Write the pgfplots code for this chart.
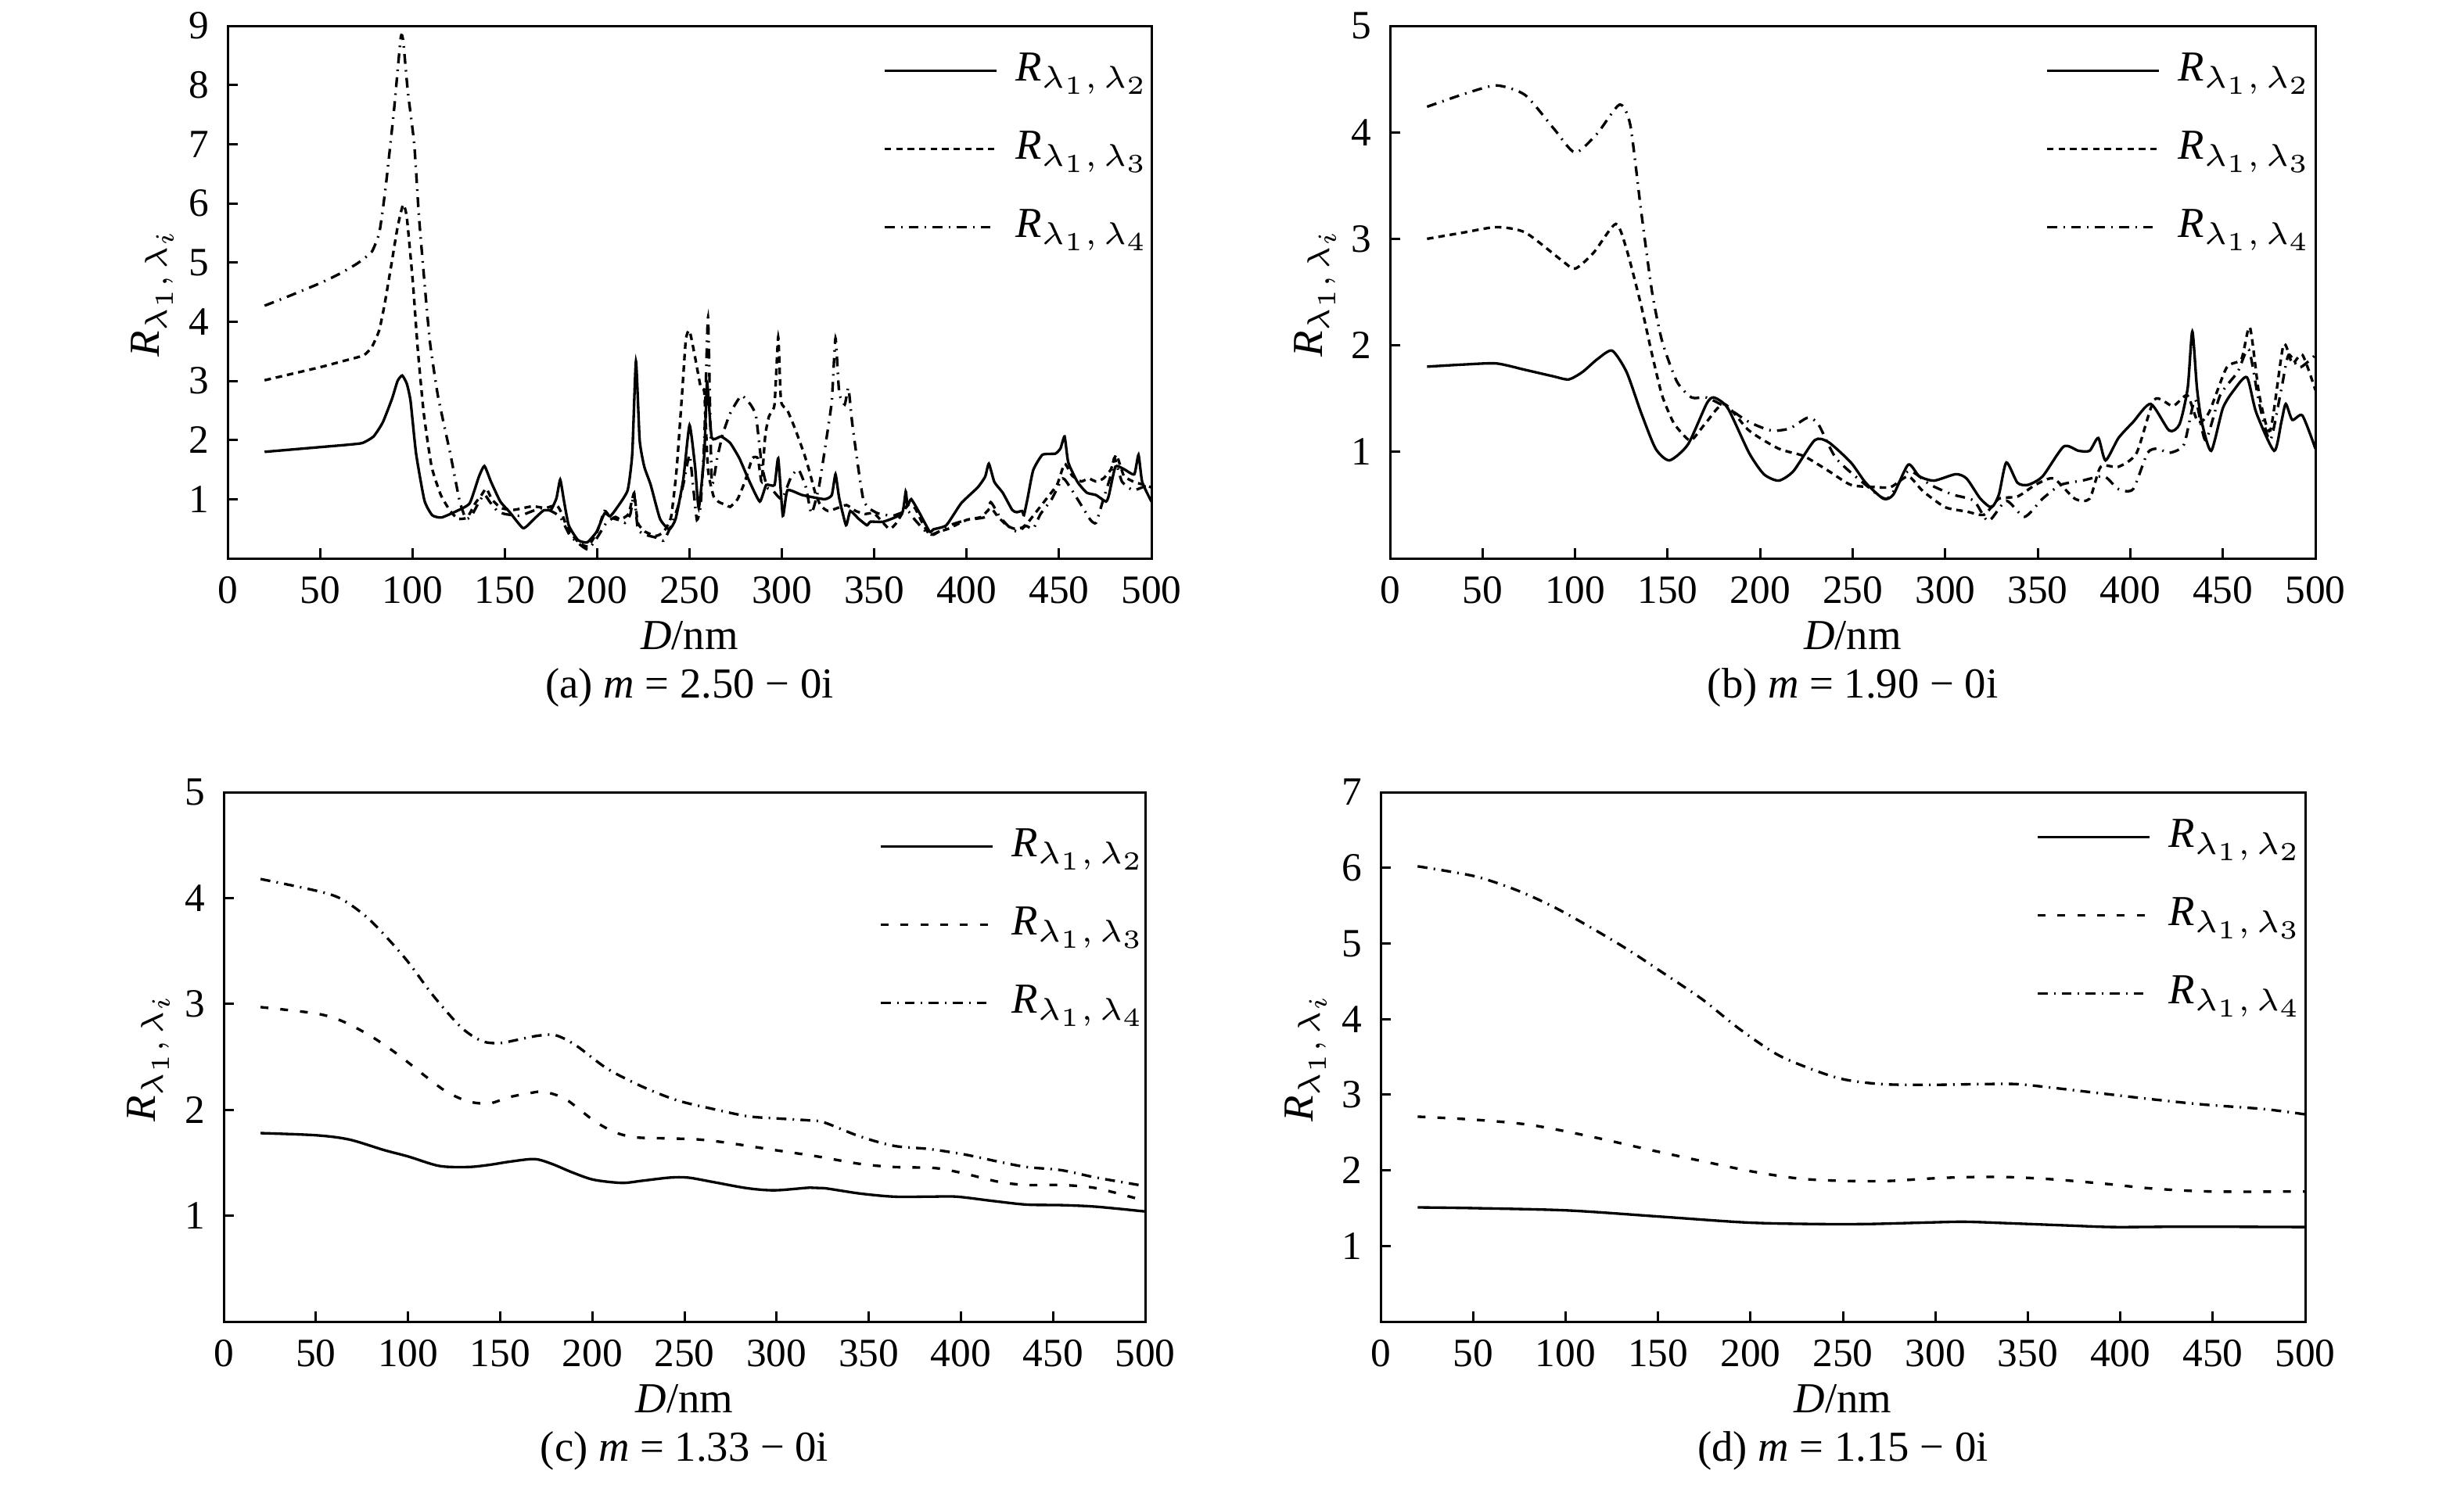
\documentclass[border=0pt]{standalone}
\usepackage{fontspec}
\setmainfont{Liberation Serif}
\usepackage{pgfplots}
\pgfplotsset{compat=1.18}
\newcommand{\fs}{\fontsize{8.2}{9.8}\selectfont}
\newcommand{\ft}{\fontsize{7.7}{9.2}\selectfont}
\newcommand{\Rl}[1]{{\itshape R}$_{\lambda_1,\,\lambda_{#1}}$}
\pgfplotsset{
  legend image code/.code={\draw[#1] (0pt,0pt) -- (21.45pt,0pt);},
  panel/.style={
    scale only axis, anchor=south west,
    xmin=0, xmax=500, ymin=0,
    xtick={0,50,...,500},
    tick align=inside, tick pos=left,
    major tick length=2pt,
    axis line style={line width=0.45pt},
    every tick/.style={line width=0.45pt, black},
    tick label style={font=\ft},
    /pgf/number format/assume math mode=true,
    label style={font=\fs},
    xlabel={{\itshape D}/nm},
    ylabel={\Rl{i}},
    xlabel style={at={(axis description cs:0.5,0)}, anchor=base, yshift=-17.4pt},
    ylabel style={at={(axis description cs:0,0.5)}, anchor=center, yshift=14.4pt},
    legend cell align=left,
    legend style={draw=none, fill=none, anchor=north west, inner sep=0pt,
      row sep=8.1pt, column sep=3.4pt, font=\fs,
      nodes={inner sep=0pt},
      at={(axis description cs:0,1)}, xshift=125.55pt, yshift=-5.0pt},
  },
  s12/.style={black, line width=0.5pt},
  s13/.style={black, line width=0.5pt, dash pattern=on 1.25pt off 0.95pt},
  s13w/.style={black, line width=0.5pt, dash pattern=on 1.5pt off 2.3pt},
  s14/.style={black, line width=0.5pt, dash pattern=on 1.9pt off 1.2pt on 0.3pt off 1.2pt},
}
\begin{document}
\begin{tikzpicture}
\useasboundingbox (0,0) rectangle (472.5pt,284.7pt);
% ---------------- (a)
\begin{axis}[panel, name=pa, at={(43.65pt,177.6pt)}, width=177.15pt, height=102.15pt,
  ymax=9, ytick={1,...,9}]
\addplot[s12, smooth, tension=0.3] coordinates {
(20,1.80)(35,1.84)(50,1.88)(65,1.92)(73,1.95)(79,2.06)(84,2.30)(89,2.70)(92,3.00)(94.5,3.09)(97,2.95)(99,2.66)(102,1.77)(106.5,0.98)(110.7,0.73)(115.7,0.69)(124,0.80)(131,0.93)(136,1.38)(139,1.56)(142.6,1.29)(147.6,0.96)(152.7,0.78)(160,0.51)(166,0.67)(171,0.81)(175,0.82)(178,1.02)(180,1.33)(182,0.98)(184.6,0.56)(189.6,0.31)(194.6,0.27)(199.7,0.45)(204,0.76)(207,0.71)(210.6,0.85)(216.5,1.15)(219,1.77)(221,3.33)(223,2.00)(225.5,1.55)(229,1.24)(234,0.67)(239,0.49)(242.5,0.67)(246.6,1.33)(250,2.25)(253,1.55)(255,0.85)(258,1.77)(259.5,2.97)(262,2.04)(267,2.06)(272,1.95)(277,1.69)(282,1.33)(288,0.96)(291.5,1.24)(296,1.24)(298,1.69)(300.5,0.72)(303,1.15)(311,1.07)(323,1.00)(327,1.07)(329,1.42)(331,1.02)(334.7,0.56)(337,0.80)(341.5,0.67)(346,0.56)(348,0.62)(355,0.62)(365,0.76)(367,1.13)(368,0.89)(370,1.00)(374.6,0.76)(380,0.45)(382,0.49)(389,0.56)(397,0.93)(406,1.20)(410,1.38)(412,1.60)(415,1.29)(419.5,1.11)(424.6,0.82)(427,0.78)(430,0.80)(431,0.73)(433,1.02)(436,1.49)(441,1.75)(448,1.77)(450.8,1.86)(453,2.06)(455,1.62)(460,1.29)(465,1.11)(470,1.07)(475.4,0.96)(477,1.07)(480.5,1.55)(485,1.51)(490.7,1.42)(493,1.75)(495,1.29)(500,0.96)};
\addlegendentry{\Rl{2}}
\addplot[s13, smooth, tension=0.3] coordinates {
(20,3.01)(35,3.12)(50,3.23)(62,3.33)(73.5,3.43)(78,3.57)(82,3.85)(85,4.30)(88.6,4.96)(92,5.60)(95,5.98)(97,5.76)(100.3,4.65)(102.9,3.54)(106.2,2.44)(110.4,1.55)(115.4,1.07)(120.5,0.80)(124.7,0.67)(129.7,0.69)(134,0.93)(137,1.05)(140,1.18)(143,1.00)(148,0.85)(155,0.82)(165,0.88)(172,0.85)(178,0.90)(181,0.75)(184,0.50)(190,0.27)(195,0.20)(200,0.45)(204,0.80)(207,0.70)(212,0.65)(217,0.75)(220,1.10)(222,0.60)(226,0.45)(232,0.38)(236,0.45)(240,0.70)(243,1.50)(246,2.80)(248,3.70)(250,3.85)(253,3.40)(256,2.90)(258,2.80)(260,1.50)(263,1.05)(266,0.95)(270,0.90)(272,0.87)(276,1.00)(280,1.30)(284,1.69)(287,1.69)(289,1.30)(291,2.08)(293,2.40)(296,2.60)(298,3.74)(299.5,2.66)(303,2.50)(307,2.20)(312,1.77)(315,1.46)(318,1.11)(321,0.89)(325,0.80)(330,0.85)(335,0.90)(340,0.80)(345,0.75)(350,0.76)(358,0.50)(362,0.60)(368,0.90)(372,0.85)(376,0.60)(380,0.40)(385,0.45)(390,0.50)(400,0.65)(408,0.70)(413,0.85)(417,0.70)(422,0.55)(426,0.50)(430,0.52)(433,0.60)(438,0.80)(443,1.00)(449,1.25)(453,1.60)(457,1.40)(462,1.30)(466,1.35)(470,1.30)(474,1.35)(478,1.50)(481,1.75)(485,1.40)(490,1.30)(495,1.25)(500,1.20)};
\addlegendentry{\Rl{3}}
\addplot[s14, smooth, tension=0.3] coordinates {
(20,4.27)(33,4.43)(50,4.65)(60,4.80)(70,4.98)(78,5.18)(82,5.49)(84,5.90)(86,6.40)(90,7.56)(93.7,8.80)(95,8.75)(97.5,7.90)(101,7.00)(103.6,5.76)(107,4.50)(109.6,3.63)(113.8,2.75)(120.5,1.77)(125.5,0.98)(128.9,0.67)(132,0.72)(136,0.95)(139,1.08)(142,0.95)(146,0.80)(150,0.75)(158,0.72)(165,0.80)(170,0.85)(175,0.80)(180,0.70)(185,0.40)(190,0.25)(195,0.15)(200,0.35)(205,0.60)(210,0.70)(215,0.60)(218,0.75)(220,1.10)(222,0.50)(226,0.40)(232,0.35)(236,0.30)(240,0.55)(244,0.90)(247,1.30)(250,1.75)(252,1.20)(254,0.65)(256,0.90)(258,2.00)(260,4.07)(262,1.30)(265,1.70)(268,2.10)(272,2.45)(278,2.75)(283,2.60)(286,2.40)(289,1.60)(292,1.20)(295,1.15)(300,1.00)(305,1.38)(309,1.50)(313,1.20)(316,0.76)(320,1.20)(324,2.00)(327,2.66)(329,3.72)(331,2.80)(334,2.60)(336,2.88)(338,2.30)(341,1.60)(344,1.00)(347,0.85)(352,0.76)(360,0.72)(368,0.80)(372,0.65)(378,0.45)(382,0.40)(390,0.55)(400,0.65)(410,0.70)(413,0.95)(418,0.70)(424,0.50)(428,0.45)(432,0.55)(436,0.50)(440,0.75)(446,1.00)(452,1.35)(456,1.20)(462,0.90)(467,0.65)(470,0.60)(474,1.00)(478,1.40)(480,1.70)(484,1.30)(490,1.15)(495,1.20)(500,1.25)};
\addlegendentry{\Rl{4}}
\end{axis}
\node[font=\fs, anchor=base] at ([yshift=-26.8pt]pa.south) {(a) {\itshape m} = 2.50 − 0i};
% ---------------- (b)
\begin{axis}[panel, name=pb, at={(266.55pt,177.6pt)}, width=177.45pt, height=102.15pt,
  ymax=5, ytick={1,...,5}]
\addplot[s12, smooth, tension=0.4] coordinates {
(20,1.80)(40,1.82)(57.5,1.83)(73,1.77)(88,1.71)(96.5,1.68)(104,1.75)(112,1.87)(120,1.95)(127.8,1.75)(135.6,1.37)(143.5,1.03)(151,0.92)(161,1.07)(171,1.45)(175,1.51)(182.5,1.41)(194,0.99)(202,0.79)(210,0.73)(218,0.82)(229.5,1.11)(237,1.09)(249,0.90)(257,0.71)(266.6,0.56)(272,0.60)(280,0.88)(286,0.77)(294,0.73)(305.6,0.79)(311.5,0.75)(319,0.56)(325,0.48)(329,0.60)(333,0.90)(339,0.71)(344.7,0.69)(352.6,0.77)(364,1.05)(372,1.01)(378,1.01)(382.7,1.13)(386.6,0.92)(393.6,1.13)(401.5,1.28)(411,1.45)(421,1.20)(426.6,1.26)(431,1.60)(433.5,2.13)(436,1.60)(438.6,1.28)(443.7,1.01)(450,1.41)(456,1.58)(463,1.70)(468,1.37)(477.7,1.01)(481.6,1.28)(484,1.45)(487.5,1.30)(493,1.34)(500,1.03)};
\addlegendentry{\Rl{2}}
\addplot[s13, smooth, tension=0.4] coordinates {
(20,3.00)(40,3.06)(57.5,3.11)(73,3.06)(92.6,2.80)(100,2.72)(110,2.87)(122,3.14)(128,2.89)(135.6,2.38)(141.5,1.92)(147,1.53)(153,1.28)(159,1.15)(163,1.11)(171,1.28)(180.6,1.45)(194,1.20)(210,1.03)(223.6,0.96)(237,0.82)(249,0.69)(261,0.67)(270.6,0.67)(280,0.77)(288,0.63)(300,0.48)(311.5,0.44)(321,0.41)(329,0.56)(339,0.58)(348.7,0.69)(358.5,0.75)(370,0.56)(378,0.56)(384,0.86)(393.6,0.86)(403.4,0.99)(413,1.49)(423,1.43)(430.8,1.53)(436.6,1.28)(442.5,1.37)(452,1.79)(460,1.87)(464.6,2.17)(469.7,1.53)(475.6,1.20)(482.7,2.00)(487.5,1.83)(493,1.91)(500,1.58)};
\addlegendentry{\Rl{3}}
\addplot[s14, smooth, tension=0.4] coordinates {
(20,4.24)(40,4.36)(57.5,4.44)(73,4.35)(88.7,4.03)(100,3.81)(112,3.99)(124,4.26)(129.8,4.07)(135.6,3.27)(141.5,2.51)(147,2.04)(155,1.66)(163,1.51)(171,1.51)(182.5,1.41)(194,1.28)(206,1.20)(216,1.22)(225.6,1.32)(231.4,1.26)(241,0.94)(257,0.69)(268.6,0.56)(280,0.82)(292,0.69)(303.8,0.60)(315.5,0.54)(323.3,0.35)(333,0.54)(342.8,0.39)(352.6,0.56)(362.4,0.69)(374,0.73)(385.8,0.77)(393.6,0.65)(401.5,0.65)(409.3,0.99)(415,1.03)(421,0.99)(429,1.07)(435,1.49)(440.6,1.11)(448.5,1.53)(458,1.75)(464,1.96)(469.7,1.45)(475.6,1.11)(481.5,1.58)(485.5,1.91)(491.3,1.79)(500,1.91)};
\addlegendentry{\Rl{4}}
\end{axis}
\node[font=\fs, anchor=base] at ([yshift=-26.8pt]pb.south) {(b) {\itshape m} = 1.90 − 0i};
% ---------------- (c)
\begin{axis}[panel, name=pc, at={(42.9pt,31.2pt)}, width=176.7pt, height=101.55pt,
  ymax=5, ytick={1,...,5}, legend style={yshift=-1.8pt}]
\addplot[s12, smooth] coordinates {
(20,1.78)(50,1.76)(68,1.72)(87,1.62)(100,1.56)(117,1.47)(132.6,1.46)(144,1.48)(155,1.51)(168.6,1.535)(178,1.49)(189,1.41)(200.7,1.34)(216,1.31)(227,1.33)(242,1.36)(252,1.36)(265,1.32)(284,1.26)(299,1.24)(318,1.265)(326,1.26)(345,1.21)(363.6,1.18)(382.6,1.18)(397.7,1.18)(417,1.14)(435.6,1.105)(454.5,1.10)(473.5,1.085)(500,1.04)};
\addlegendentry{\Rl{2}}
\addplot[s13w, smooth] coordinates {
(20,2.97)(50,2.91)(64,2.84)(79.5,2.70)(94.7,2.52)(110,2.31)(121,2.17)(132.6,2.08)(144,2.06)(155,2.12)(166.7,2.16)(174,2.17)(185.6,2.10)(200.7,1.90)(212,1.79)(223.5,1.74)(242,1.73)(257.6,1.72)(272.7,1.69)(299,1.62)(322,1.56)(345,1.49)(363.6,1.46)(386,1.45)(401.5,1.40)(420.5,1.32)(435.6,1.29)(454.5,1.29)(473.5,1.26)(500,1.14)};
\addlegendentry{\Rl{3}}
\addplot[s14, smooth] coordinates {
(20,4.18)(50,4.07)(64,3.99)(79.5,3.79)(98.5,3.43)(113.6,3.08)(128.8,2.78)(140,2.65)(149.6,2.63)(159,2.66)(170.5,2.70)(180,2.705)(191,2.61)(208,2.39)(227,2.22)(246,2.09)(265,2.01)(284,1.94)(299,1.92)(318,1.90)(326,1.88)(345,1.75)(363.6,1.66)(382.6,1.63)(401.5,1.58)(420.5,1.51)(435.6,1.46)(454.5,1.43)(473.5,1.36)(500,1.28)};
\addlegendentry{\Rl{4}}
\end{axis}
\node[font=\fs, anchor=base] at ([yshift=-26.8pt]pc.south) {(c) {\itshape m} = 1.33 − 0i};
% ---------------- (d)
\begin{axis}[panel, name=pd, at={(264.75pt,31.2pt)}, width=177.3pt, height=101.55pt,
  ymax=7, ytick={1,...,7}]
\addplot[s12, smooth] coordinates {
(20,1.51)(50.6,1.50)(101,1.47)(150,1.39)(198,1.31)(235,1.29)(263,1.29)(295.5,1.31)(315.8,1.32)(340,1.30)(372.5,1.27)(396.8,1.25)(437,1.255)(500,1.25)};
\addlegendentry{\Rl{2}}
\addplot[s13w, smooth] coordinates {
(20,2.71)(50.6,2.67)(81,2.60)(113,2.45)(145.7,2.27)(178,2.10)(202,1.98)(226.7,1.89)(251,1.86)(275,1.86)(295.5,1.89)(315.8,1.91)(340,1.91)(364,1.88)(392.7,1.82)(417,1.76)(449,1.72)(500,1.72)};
\addlegendentry{\Rl{3}}
\addplot[s14, smooth] coordinates {
(20,6.02)(50.6,5.89)(73,5.71)(93,5.49)(113,5.22)(133.6,4.92)(154,4.59)(174,4.26)(194,3.87)(214.6,3.53)(235,3.32)(251,3.20)(271,3.14)(295.5,3.13)(324,3.14)(344,3.14)(364,3.09)(388.7,3.02)(417,2.94)(445,2.87)(477.7,2.81)(500,2.74)};
\addlegendentry{\Rl{4}}
\end{axis}
\node[font=\fs, anchor=base] at ([yshift=-26.8pt]pd.south) {(d) {\itshape m} = 1.15 − 0i};
\end{tikzpicture}
\end{document}
